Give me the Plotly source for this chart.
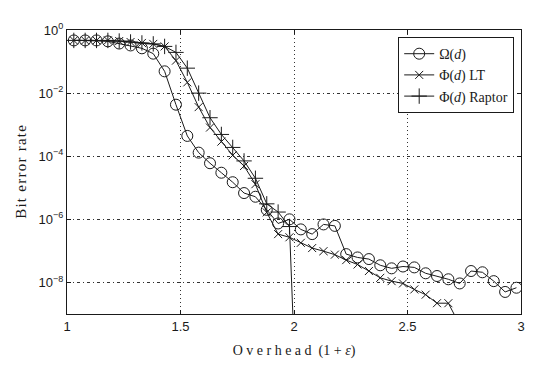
import plotly.graph_objects as go

# Overhead values (x)
overhead = [1.03, 1.08, 1.13, 1.18, 1.23, 1.28, 1.33, 1.38, 1.43, 1.48,
            1.53, 1.58, 1.63, 1.68, 1.73, 1.78, 1.83, 1.88, 1.93, 1.98,
            2.03, 2.08, 2.13, 2.18, 2.23, 2.28, 2.33, 2.38, 2.43, 2.48,
            2.53, 2.58, 2.63, 2.68, 2.73, 2.78, 2.83, 2.88, 2.93, 2.98]

ber_omega = [0.468, 0.468, 0.468, 0.437, 0.372, 0.324, 0.263, 0.178, 0.049, 4.3e-3,
             4.4e-4, 1.3e-4, 6.0e-5, 3.0e-5, 1.5e-5, 6.8e-6, 5.2e-6, 2.0e-6, 7.4e-7, 1.0e-6,
             4.8e-7, 3.4e-7, 6.9e-7, 6.2e-7, 7.9e-8, 6.2e-8, 5.5e-8, 3.5e-8, 2.8e-8, 3.2e-8,
             3.0e-8, 1.95e-8, 1.6e-8, 1.26e-8, 9.3e-9, 2.3e-8, 2.1e-8, 1.1e-8, 5.0e-9, 6.8e-9]

ber_lt = [0.468, 0.468, 0.468, 0.468, 0.447, 0.417, 0.389, 0.363, 0.302, 0.107,
          0.0219, 3.6e-3, 8.1e-4, 2.9e-4, 1.07e-4, 4.9e-5, 1.3e-5, 1.66e-6, 3.4e-7, 2.7e-7,
          1.8e-7, 1.23e-7, 9.8e-8, 7.6e-8, 5.1e-8, 3.7e-8, 2.3e-8, 1.4e-8, 1.1e-8, 9.3e-9,
          6.0e-9, 4.1e-9, 2.2e-9, 2.2e-9, 4.5e-10]

ber_raptor = [0.468, 0.468, 0.468, 0.468, 0.447, 0.417, 0.389, 0.363, 0.302, 0.195,
              0.0617, 1.0e-2, 1.66e-3, 4.9e-4, 1.9e-4, 7.1e-5, 2.0e-5, 3.1e-6, 1.7e-6, 5.9e-7,
              3e-16]

y_tick_vals = [1, 1e-2, 1e-4, 1e-6, 1e-8]
y_tick_text = ["10<sup>0</sup>", "10<sup>\u22122</sup>", "10<sup>\u22124</sup>",
               "10<sup>\u22126</sup>", "10<sup>\u22128</sup>"]
x_tick_vals = [1, 1.5, 2, 2.5, 3]
x_tick_text = ["1", "1.5", "2", "2.5", "3"]

ink = "#1a1a1a"
serif = "Liberation Serif, DejaVu Serif, serif"
sans = "Liberation Sans, Arial, sans-serif"

hs = "\u200a"
y_title = hs.join("Bit error rate")

fig = go.Figure()
fig.add_trace(go.Scatter(
    x=overhead, y=ber_omega, mode="lines+markers", name="\u03a9(<i>d</i>)",
    line=dict(color=ink, width=1),
    marker=dict(symbol="circle-open", size=11, color=ink, line=dict(width=1, color=ink)),
    cliponaxis=True))
fig.add_trace(go.Scatter(
    x=overhead[:len(ber_lt)], y=ber_lt, mode="lines+markers", name="\u03a6(<i>d</i>) LT",
    line=dict(color=ink, width=1),
    marker=dict(symbol="x-thin-open", size=8, color=ink, line=dict(width=1, color=ink)),
    cliponaxis=True))
fig.add_trace(go.Scatter(
    x=overhead[:len(ber_raptor)], y=ber_raptor, mode="lines+markers", name="\u03a6(<i>d</i>) Raptor",
    line=dict(color=ink, width=1),
    marker=dict(symbol="cross-thin-open", size=11, color=ink, line=dict(width=1, color=ink)),
    cliponaxis=True))

fig.update_layout(
    width=556, height=374,
    margin=dict(l=57, r=43, t=22, b=68),
    paper_bgcolor="white", plot_bgcolor="white",
    showlegend=True,
    legend=dict(x=0.985, y=0.975, xanchor="right", yanchor="top",
                bgcolor="white", bordercolor=ink, borderwidth=1,
                font=dict(family=serif, size=14, color=ink),
                tracegroupgap=0, itemsizing="trace"),
    xaxis=dict(range=[1, 3], tickvals=x_tick_vals, ticktext=x_tick_text,
               showgrid=True, gridcolor="#333", griddash="1px,3px", gridwidth=1,
               showline=True, linecolor=ink, linewidth=1, mirror="ticks",
               ticks="inside", ticklen=4, tickcolor=ink,
               tickfont=dict(family=sans, size=13, color=ink), zeroline=False,
               title=dict(text="O v e r h e a d  (1 + <i>\u03b5</i>)",
                          font=dict(family=serif, size=14, color=ink), standoff=12)),
    yaxis=dict(type="log", range=[-9, 0], tickvals=y_tick_vals, ticktext=y_tick_text,
               showgrid=True, gridcolor="#333", griddash="3px,3px,1px,3px", gridwidth=1,
               showline=True, linecolor=ink, linewidth=1, mirror="ticks",
               ticks="inside", ticklen=4, tickcolor=ink,
               tickfont=dict(family=sans, size=13, color=ink), zeroline=False,
               title=dict(text=y_title,
                          font=dict(family=serif, size=15, color=ink), standoff=8)),
)

fig.write_html("out.html")
